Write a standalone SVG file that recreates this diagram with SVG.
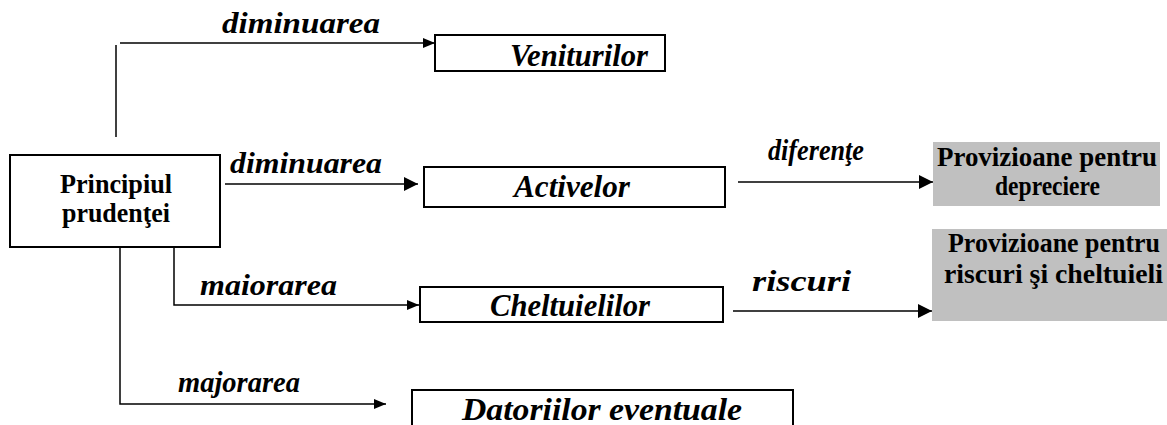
<svg xmlns="http://www.w3.org/2000/svg" width="1167" height="425" viewBox="0 0 1167 425">
<defs>
<style>
.box{fill:#fff;stroke:#000;stroke-width:2}
.gray{fill:#c0c0c0;stroke:none}
.lbl{font-weight:bold;font-style:italic;font-size:30px}
.ntx{font-weight:bold;font-style:italic;font-size:31px}
.btx{font-weight:bold;font-size:27px}
.ln{fill:none;stroke:#000;stroke-width:1.5}
</style>
<marker id="ah" viewBox="0 0 12 10" refX="12" refY="5" markerWidth="12" markerHeight="10" markerUnits="userSpaceOnUse" orient="auto">
<path d="M0,0 L12,5 L0,10 Z" fill="#000"/>
</marker>
<marker id="ahb" viewBox="0 0 14 14" refX="14" refY="7" markerWidth="14" markerHeight="14" markerUnits="userSpaceOnUse" orient="auto">
<path d="M0,0 L14,7 L0,14 Z" fill="#000"/>
</marker>
</defs>
<rect width="1167" height="425" fill="#fff"/>
<g font-family="Liberation Serif, Times New Roman, Tinos, DejaVu Serif, serif" fill="#000">
<g id="connectors">
<path class="ln" d="M116,45 V137" stroke="#444"/>
<path class="ln" d="M120,43 H435" marker-end="url(#ah)"/>
<path class="ln" d="M225,184 H418" stroke-width="2.5" marker-end="url(#ahb)"/>
<path class="ln" d="M738,182 H933" stroke-width="2" marker-end="url(#ahb)"/>
<path class="ln" d="M174,247 V305 H419" marker-end="url(#ah)"/>
<path class="ln" d="M733,311 H932" stroke-width="3" marker-end="url(#ahb)"/>
<path class="ln" d="M120,247 V404 H386" marker-end="url(#ah)"/>
<text class="lbl" x="222" y="33" textLength="158" lengthAdjust="spacingAndGlyphs">diminuarea</text>
<text class="lbl" x="230" y="173" textLength="152" lengthAdjust="spacingAndGlyphs">diminuarea</text>
<text class="lbl" x="768" y="160" textLength="96" lengthAdjust="spacingAndGlyphs">diferenţe</text>
<text class="lbl" x="200" y="295" textLength="137" lengthAdjust="spacingAndGlyphs">maiorarea</text>
<text class="lbl" x="752" y="291" textLength="99" lengthAdjust="spacingAndGlyphs">riscuri</text>
<text class="lbl" x="178" y="392" textLength="122" lengthAdjust="spacingAndGlyphs">majorarea</text>
</g>
<g id="principiul">
<rect class="box" x="10" y="155" width="210" height="92" stroke-width="3.5"/>
<text class="btx" x="60" y="193" textLength="112" lengthAdjust="spacingAndGlyphs">Principiul</text>
<text class="btx" x="62" y="222" textLength="108" lengthAdjust="spacingAndGlyphs">prudenţei</text>
</g>
<g id="veniturilor">
<rect class="box" x="435" y="35" width="230" height="36" stroke-width="2.5"/>
<text class="ntx" x="510" y="66" textLength="138" lengthAdjust="spacingAndGlyphs">Veniturilor</text>
</g>
<g id="activelor">
<rect class="box" x="424" y="167" width="301" height="40" stroke-width="1.5"/>
<text class="ntx" x="514" y="197" textLength="116" lengthAdjust="spacingAndGlyphs">Activelor</text>
</g>
<g id="cheltuielilor">
<rect class="box" x="420" y="287" width="303" height="35"/>
<text class="ntx" x="490" y="316" textLength="160" lengthAdjust="spacingAndGlyphs">Cheltuielilor</text>
</g>
<g id="datoriilor">
<rect class="box" x="412" y="390" width="381" height="40"/>
<text class="ntx" x="462" y="420" textLength="280" lengthAdjust="spacingAndGlyphs">Datoriilor eventuale</text>
</g>
<g id="prov-depreciere">
<rect class="gray" x="933" y="142" width="227" height="64"/>
<text class="btx" x="937" y="166" textLength="220" lengthAdjust="spacingAndGlyphs">Provizioane pentru</text>
<text class="btx" x="995" y="195" textLength="105" lengthAdjust="spacingAndGlyphs">depreciere</text>
</g>
<g id="prov-riscuri">
<rect class="gray" x="932" y="229" width="240" height="92"/>
<text class="btx" x="948" y="252" textLength="212" lengthAdjust="spacingAndGlyphs">Provizioane pentru</text>
<text class="btx" x="944" y="283" textLength="219" lengthAdjust="spacingAndGlyphs">riscuri şi cheltuieli</text>
</g>
</g>
</svg>
